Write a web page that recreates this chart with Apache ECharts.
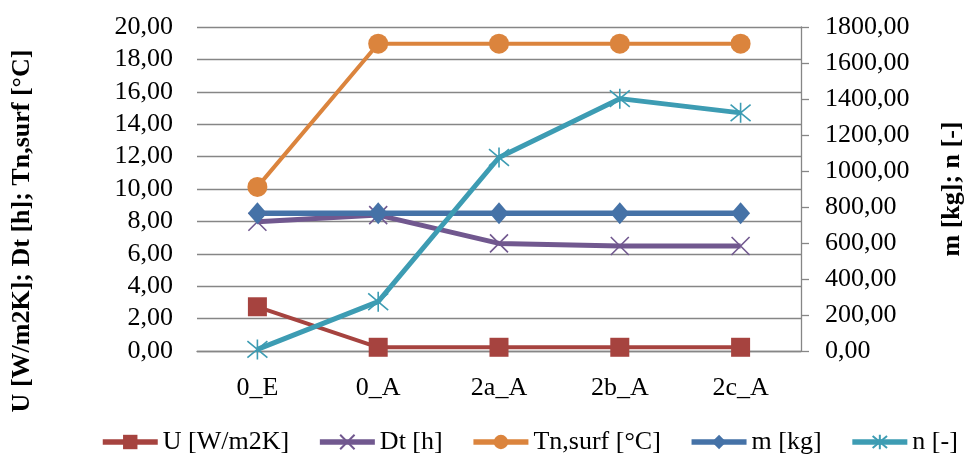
<!DOCTYPE html>
<html>
<head>
<meta charset="utf-8">
<script src="https://cdn.jsdelivr.net/npm/echarts@6/dist/echarts.min.js"></script>
<style>html,body{margin:0;padding:0;background:#fff;}#c{width:973px;height:457px;}</style>
</head>
<body>
<div id="c"></div>
<script>
const categories = ['0_E', '0_A', '2a_A', '2b_A', '2c_A'];
const seriesNames = ['U [W/m2K]', 'Dt [h]', 'Tn,surf [°C]', 'm [kg]', 'n [-]'];
const U = [2.73, 0.23, 0.23, 0.23, 0.23];
const Dt = [7.98, 8.39, 6.64, 6.48, 6.48];
const Tn = [10.13, 18.97, 18.97, 18.97, 18.97];
const m = [765, 765, 765, 765, 765];
const n = [9, 274, 1075, 1402, 1323];
const leftTicks = {min: 0, max: 20, interval: 2};
const rightTicks = {min: 0, max: 1800, interval: 200};

const FONT = 'Liberation Serif';
const fmt = v => v.toFixed(2).replace('.', ',');
const gridColor = '#868686';
const xPath = 'path://M0,0 L10,10 M10,0 L0,10';
const starPath = 'path://M0,0 L10,10 M10,0 L0,10 M5,-1 L5,11';

const chart = echarts.init(document.getElementById('c'), null, {renderer: 'canvas'});
chart.setOption({
  animation: false,
  backgroundColor: '#ffffff',
  textStyle: {fontFamily: FONT, color: '#000'},
  grid: {left: 197, right: 166, top: 27, bottom: 106, containLabel: false},
  legend: {
    left: 95, top: 424, itemWidth: 55, itemHeight: 18, itemGap: 28,
    lineStyle: {width: 5.5},
    textStyle: {fontFamily: FONT, fontSize: 26, color: '#000'},
    data: seriesNames
  },
  xAxis: {
    type: 'category', data: categories, boundaryGap: true,
    axisLine: {show: true, lineStyle: {color: gridColor, width: 1.3}},
    axisTick: {show: false},
    axisLabel: {fontFamily: FONT, fontSize: 26, color: '#000', margin: 24}
  },
  yAxis: [
    {
      type: 'value', position: 'left', min: leftTicks.min, max: leftTicks.max, interval: leftTicks.interval,
      name: 'U [W/m2K]; Dt [h]; Tn,surf [°C]', nameLocation: 'middle', nameRotate: 90, nameGap: 162,
      nameTextStyle: {fontFamily: FONT, fontSize: 26, fontWeight: 'bold', color: '#000', padding: [0, 84, 0, 0]},
      axisLine: {show: false}, axisTick: {show: false},
      axisLabel: {fontFamily: FONT, fontSize: 26, color: '#000', margin: 24, formatter: fmt},
      splitLine: {show: true, lineStyle: {color: gridColor, width: 1.3}}
    },
    {
      type: 'value', position: 'right', min: rightTicks.min, max: rightTicks.max, interval: rightTicks.interval,
      name: 'm [kg]; n [-]', nameLocation: 'middle', nameRotate: 90, nameGap: 138,
      nameTextStyle: {fontFamily: FONT, fontSize: 26, fontWeight: 'bold', color: '#000'},
      axisLine: {show: true, lineStyle: {color: gridColor, width: 1.3}},
      axisTick: {show: true, inside: false, length: 8, lineStyle: {color: gridColor, width: 1.3}},
      axisLabel: {fontFamily: FONT, fontSize: 26, color: '#000', margin: 24, formatter: fmt},
      splitLine: {show: false}
    }
  ],
  series: [
    {name: seriesNames[0], type: 'line', yAxisIndex: 0, data: U, symbol: 'rect', symbolSize: 19,
     lineStyle: {color: '#A6433F', width: 4}, itemStyle: {color: '#A6433F'}},
    {name: seriesNames[1], type: 'line', yAxisIndex: 0, data: Dt, symbol: xPath, symbolSize: 18,
     lineStyle: {color: '#71588F', width: 5}, itemStyle: {color: 'rgba(0,0,0,0)', borderColor: '#71588F', borderWidth: 1.6}},
    {name: seriesNames[2], type: 'line', yAxisIndex: 0, data: Tn, symbol: 'circle', symbolSize: 20,
     lineStyle: {color: '#DB843D', width: 4}, itemStyle: {color: '#DB843D'}},
    {name: seriesNames[3], type: 'line', yAxisIndex: 1, data: m, symbol: 'diamond', symbolSize: [19, 22],
     lineStyle: {color: '#4572A7', width: 5.5}, itemStyle: {color: '#4572A7'}},
    {name: seriesNames[4], type: 'line', yAxisIndex: 1, data: n, symbol: starPath, symbolSize: 20,
     lineStyle: {color: '#3D9CB3', width: 5}, itemStyle: {color: 'rgba(0,0,0,0)', borderColor: '#3D9CB3', borderWidth: 1.6}}
  ]
});
</script>
</body>
</html>
